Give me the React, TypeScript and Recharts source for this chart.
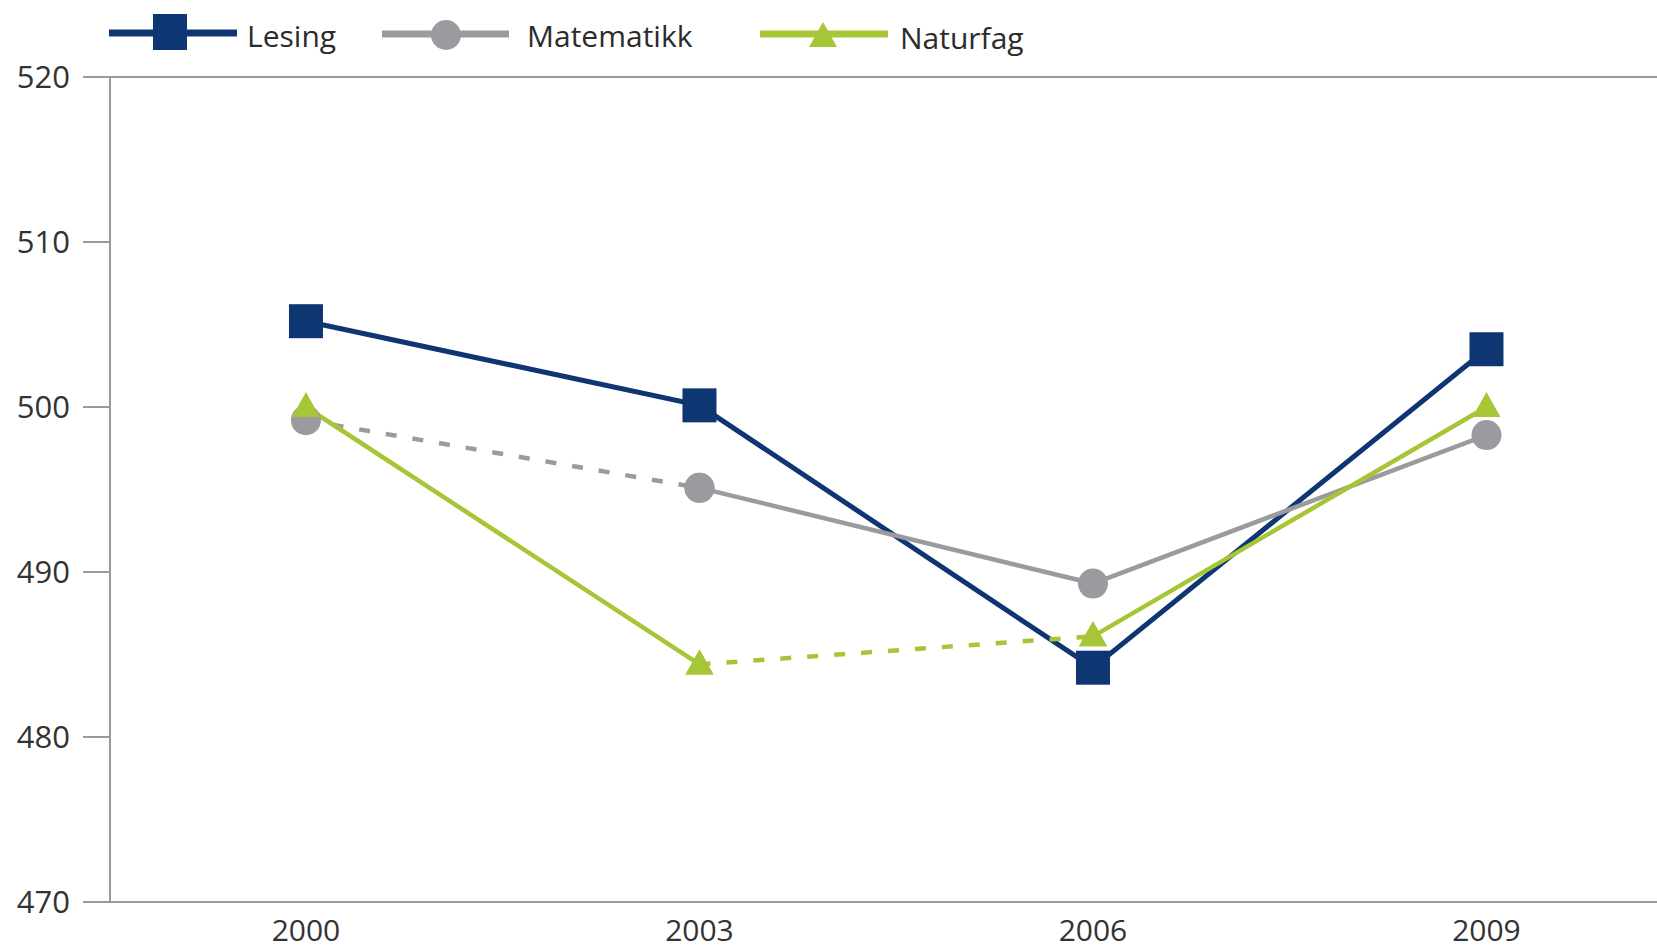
import { LineChart, Line, XAxis, YAxis, ReferenceLine, Legend } from "recharts";

const years = [2000, 2003, 2006, 2009];
const lesing = [505.2, 500.1, 484.2, 503.5];
const matematikk = [499.2, 495.1, 489.3, 498.3];
const naturfag = [500, 484.4, 486.1, 500];
const yTicks = [470, 480, 490, 500, 510, 520];

const NAVY = "#0d3672";
const GRAY = "#9b9b9f";
const LIME = "#a6c635";
const AXIS = "#9a9a9a";
const FONT = "'Open Sans', sans-serif";

// keep only the points from..to, so a series can be split into solid / dashed parts
const segment = (values: number[], from: number, to: number) =>
  values.map((v, i) => (i >= from && i <= to ? v : null));

const data = years.map((year, i) => ({
  year,
  lesing: lesing[i],
  mateDashed: segment(matematikk, 0, 1)[i],
  mateSolid: segment(matematikk, 1, 3)[i],
  natA: segment(naturfag, 0, 1)[i],
  natDashed: segment(naturfag, 1, 2)[i],
  natB: segment(naturfag, 2, 3)[i],
}));

const SquareDot = (props: any) => {
  const { cx, cy, value, index } = props;
  if (cx == null || cy == null || value == null) return <g key={`s${index}`} />;
  return <rect key={`s${index}`} x={cx - 17} y={cy - 17} width={34} height={34} fill={NAVY} />;
};

const CircleDot = (props: any) => {
  const { cx, cy, value, index } = props;
  if (cx == null || cy == null || value == null) return <g key={`c${index}`} />;
  return <circle key={`c${index}`} cx={cx} cy={cy} r={15} fill={GRAY} />;
};

const TriangleDot = (props: any) => {
  const { cx, cy, value, index } = props;
  if (cx == null || cy == null || value == null) return <g key={`t${index}`} />;
  return (
    <polygon
      key={`t${index}`}
      points={`${cx},${cy - 15} ${cx + 14},${cy + 10} ${cx - 14},${cy + 10}`}
      fill={LIME}
    />
  );
};

function ChartLegend() {
  const text = { fontFamily: FONT, fontSize: 30, fill: "#2b2b2b" };
  return (
    <svg width={1100} height={70}>
      <line x1={109} x2={237} y1={33} y2={33} stroke={NAVY} strokeWidth={7} />
      <rect x={153} y={14} width={34} height={36} fill={NAVY} />
      <text x={247} y={47} {...text}>Lesing</text>

      <line x1={382} x2={509} y1={34} y2={34} stroke={GRAY} strokeWidth={7} />
      <circle cx={446} cy={35} r={15} fill={GRAY} />
      <text x={527} y={47} {...text}>Matematikk</text>

      <line x1={760} x2={888} y1={34} y2={34} stroke={LIME} strokeWidth={7} />
      <polygon points="823,22 837,47 809,47" fill={LIME} />
      <text x={900} y={49} {...text}>Naturfag</text>
    </svg>
  );
}

export default function App() {
  const yTick = { fill: "#333", fontSize: 31, fontFamily: FONT };
  const xTick = { fill: "#333", fontSize: 30, fontFamily: FONT };
  return (
    <div style={{ position: "absolute", left: 0, top: 0, background: "#fff" }}>
      <LineChart width={1657} height={950} data={data} margin={{ top: 77, right: 0, bottom: 0, left: 0 }}>
        <XAxis
          dataKey="year"
          type="number"
          domain={[1998.506, 2010.3]}
          ticks={years}
          allowDataOverflow
          tickLine={false}
          tickSize={0}
          tickMargin={18}
          height={48}
          tick={xTick}
          axisLine={{ stroke: AXIS, strokeWidth: 2 }}
        />
        <YAxis
          domain={[470, 520]}
          ticks={yTicks}
          width={110}
          tickSize={27}
          tickMargin={13}
          tick={yTick}
          axisLine={{ stroke: AXIS, strokeWidth: 2 }}
          tickLine={{ stroke: AXIS, strokeWidth: 2 }}
        />
        <ReferenceLine y={520} stroke={AXIS} strokeWidth={2} />
        <Legend
          layout="vertical"
          verticalAlign="middle"
          align="center"
          wrapperStyle={{ top: 0, left: 0, width: 1100, height: 70 }}
          content={() => <ChartLegend />}
        />

        <Line dataKey="lesing" stroke={NAVY} strokeWidth={5} dot={SquareDot} isAnimationActive={false} legendType="none" />

        <Line dataKey="mateDashed" stroke={GRAY} strokeWidth={4.5} strokeDasharray="11 16" dot={CircleDot} isAnimationActive={false} legendType="none" />
        <Line dataKey="mateSolid" stroke={GRAY} strokeWidth={4.5} dot={CircleDot} isAnimationActive={false} legendType="none" />

        <Line dataKey="natA" stroke={LIME} strokeWidth={4.5} dot={TriangleDot} isAnimationActive={false} legendType="none" />
        <Line dataKey="natDashed" stroke={LIME} strokeWidth={4.5} strokeDasharray="11 16" dot={TriangleDot} isAnimationActive={false} legendType="none" />
        <Line dataKey="natB" stroke={LIME} strokeWidth={4.5} dot={TriangleDot} isAnimationActive={false} legendType="none" />
      </LineChart>
    </div>
  );
}
